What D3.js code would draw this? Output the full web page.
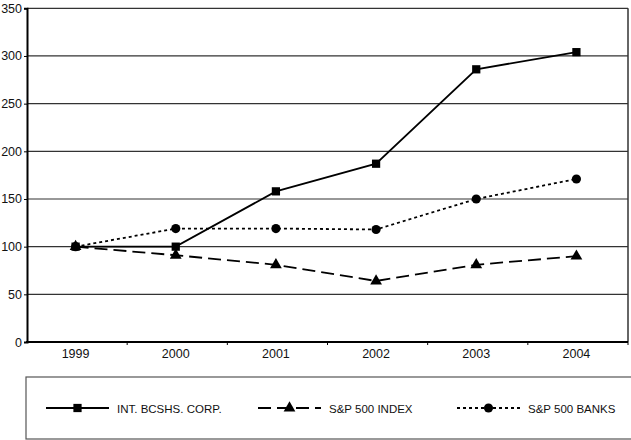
<!DOCTYPE html>
<html>
<head>
<meta charset="utf-8">
<script src="https://cdn.jsdelivr.net/npm/d3@7"></script>
<style>
  body { margin: 0; background: #fff; }
  svg { display: block; font-family: "Liberation Sans", Arial, sans-serif; }
</style>
</head>
<body>
<div id="chart"></div>
<script>
// Data
const years = ["1999", "2000", "2001", "2002", "2003", "2004"];
const intBcshs = [100, 100, 158, 187, 286, 304];
const sp500Index = [100, 91, 81, 64, 81, 90];
const sp500Banks = [100, 119, 119, 118, 150, 171];
const yTicks = [0, 50, 100, 150, 200, 250, 300, 350];

const series = [
  { name: "INT. BCSHS. CORP.", values: intBcshs, dash: null, marker: "square" },
  { name: "S&P 500 INDEX", values: sp500Index, dash: "13,6", marker: "triangle" },
  { name: "S&P 500 BANKS", values: sp500Banks, dash: "3,3", marker: "circle" },
];

// Set up dimensions
const width = 631;
const height = 440;
const plot = { left: 27, right: 628, top: 8.3, bottom: 342 };

const svg = d3
  .select("#chart")
  .append("svg")
  .attr("width", width)
  .attr("height", height);

// Scales
const xScale = d3.scaleBand().domain(years).range([plot.left, plot.right]);
const xPos = (d) => xScale(d) + xScale.bandwidth() / 2 - 1.5;

const yScale = d3
  .scaleLinear()
  .domain([0, 350])
  .range([plot.bottom, plot.top]);

// Gridlines
svg
  .append("g")
  .selectAll("line")
  .data(yTicks.filter((d) => d > 0))
  .join("line")
  .attr("x1", plot.left)
  .attr("x2", plot.right)
  .attr("y1", (d) => yScale(d))
  .attr("y2", (d) => yScale(d))
  .attr("stroke", "#333")
  .attr("stroke-width", 1.2);

// Right border
svg
  .append("line")
  .attr("x1", plot.right)
  .attr("x2", plot.right)
  .attr("y1", plot.top)
  .attr("y2", plot.bottom)
  .attr("stroke", "#333")
  .attr("stroke-width", 1.5);

// Y axis
const yAxisG = svg
  .append("g")
  .attr("transform", `translate(${plot.left},0)`)
  .call(d3.axisLeft(yScale).tickValues(yTicks).tickSize(3).tickPadding(2));
yAxisG.select(".domain").attr("stroke", "#000").attr("stroke-width", 2);
yAxisG.selectAll(".tick line").attr("stroke", "#000");
yAxisG
  .selectAll(".tick text")
  .attr("font-size", 12.5)
  .attr("fill", "#111");

// X axis
const xAxisG = svg
  .append("g")
  .attr("transform", `translate(0,${plot.bottom})`);
xAxisG
  .append("line")
  .attr("x1", plot.left - 1)
  .attr("x2", plot.right)
  .attr("stroke", "#000")
  .attr("stroke-width", 2);
xAxisG
  .selectAll(".xtick")
  .data(years.slice(1).concat(["end"]))
  .join("line")
  .attr("class", "xtick")
  .attr("x1", (d) => (d === "end" ? plot.right : xScale(d)))
  .attr("x2", (d) => (d === "end" ? plot.right : xScale(d)))
  .attr("y1", 0)
  .attr("y2", 3)
  .attr("stroke", "#000");
xAxisG
  .selectAll("text")
  .data(years)
  .join("text")
  .attr("x", (d) => xPos(d))
  .attr("y", 16)
  .attr("text-anchor", "middle")
  .attr("font-size", 12.5)
  .attr("fill", "#111")
  .text((d) => d);

// Marker drawing
const symbolFor = {
  square: d3.symbol().type(d3.symbolSquare).size(68),
  triangle: d3.symbol().type(d3.symbolTriangle).size(60),
  circle: d3.symbol().type(d3.symbolCircle).size(66),
};

const line = d3
  .line()
  .x((d, i) => xPos(years[i]))
  .y((d) => yScale(d));

// Draw series (banks first so INT sits on top)
const seriesG = svg
  .append("g")
  .selectAll("g")
  .data(series.slice().reverse())
  .join("g");

seriesG
  .append("path")
  .attr("fill", "none")
  .attr("stroke", "#000")
  .attr("stroke-width", 1.8)
  .attr("stroke-dasharray", (d) => d.dash)
  .attr("d", (d) => line(d.values));

seriesG
  .selectAll(".marker")
  .data((d) => d.values.map((v, i) => ({ v, i, marker: d.marker })))
  .join("path")
  .attr("class", "marker")
  .attr("fill", "#000")
  .attr("d", (d) => symbolFor[d.marker]())
  .attr("transform", (d) => `translate(${xPos(years[d.i])},${yScale(d.v)})`);

// Legend
const legendBox = { x: 26, y: 377, w: 620, h: 62 };
svg
  .append("rect")
  .attr("x", legendBox.x)
  .attr("y", legendBox.y)
  .attr("width", legendBox.w)
  .attr("height", legendBox.h)
  .attr("fill", "none")
  .attr("stroke", "#555")
  .attr("stroke-width", 1.2);

const legendX = [46, 258, 457];
const legendY = 408;
const legendItem = svg
  .append("g")
  .selectAll("g")
  .data(series)
  .join("g")
  .attr("transform", (d, i) => `translate(${legendX[i]},${legendY})`);

legendItem
  .append("line")
  .attr("x1", 0)
  .attr("x2", 63)
  .attr("stroke", "#000")
  .attr("stroke-width", 1.8)
  .attr("stroke-dasharray", (d) => d.dash);

legendItem
  .append("path")
  .attr("fill", "#000")
  .attr("d", (d) => symbolFor[d.marker]())
  .attr("transform", "translate(31.5,0)");

legendItem
  .append("text")
  .attr("x", 71)
  .attr("y", 4.5)
  .attr("font-size", 11.5)
  .attr("fill", "#111")
  .text((d) => d.name);
</script>
</body>
</html>
